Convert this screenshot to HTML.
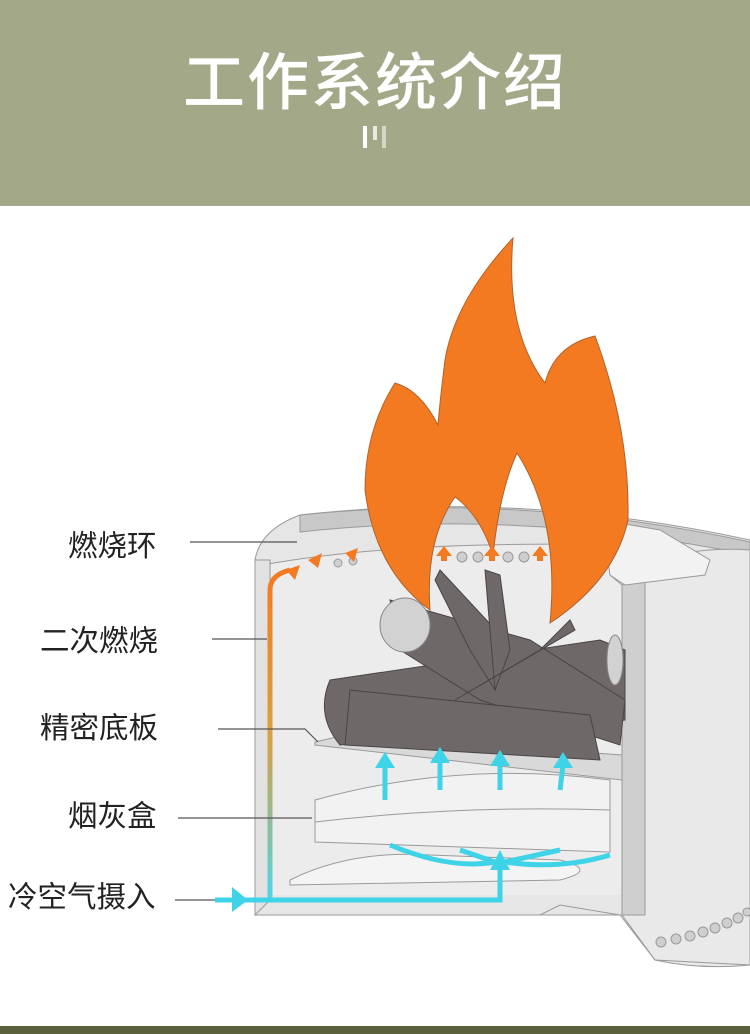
<!DOCTYPE html>
<html><head><meta charset="utf-8"><style>
body{margin:0;width:750px;height:1034px;background:#fff;overflow:hidden;position:relative;font-family:"Liberation Sans","Noto Sans CJK SC",sans-serif}
.hd{position:absolute;left:0;top:0;width:750px;height:206px;background:#a3a988}
.t{position:absolute;left:0;width:750px;top:32px;text-align:center;color:#fff;font-size:62px;letter-spacing:2px;font-weight:500}
.lb{position:absolute;font-size:29.5px;color:#222}
.ft{position:absolute;left:0;top:1026px;width:750px;height:8px;background:#5a5f3c}
</style></head><body>
<div class="hd"></div>
<div class="t">工作系统介绍</div>
<div style="position:absolute;left:363px;top:126px;width:4px;height:22px;background:#fff"></div>
<div style="position:absolute;left:373px;top:126px;width:4px;height:14px;background:#e8eadc"></div>
<div style="position:absolute;left:382px;top:126px;width:4px;height:22px;background:#d5d8c5"></div>
<div class="lb" style="left:68px;top:523px">燃烧环</div>
<div class="lb" style="left:40px;top:618px">二次燃烧</div>
<div class="lb" style="left:40px;top:705px">精密底板</div>
<div class="lb" style="left:68px;top:793px">烟灰盒</div>
<div class="lb" style="left:8px;top:874px">冷空气摄入</div>
<svg width="750" height="1034" style="position:absolute;left:0;top:0">
<g stroke="#9a9a9a" stroke-width="1">
<path d="M255,560 Q260,530 300,515 Q520,490 750,540 L750,965 L655,960 L622,915 L540,915 L530,915 L255,915 Z" fill="#e6e6e6"/>
<path d="M300,515 Q520,492 750,542 L750,555 Q520,508 300,532 Z" fill="#c8c8c8"/>
<path d="M262,565 Q400,540 620,545 L622,585 L262,585 Z" fill="#ececec"/>
<path d="M270,575 L622,575 L622,895 L270,895 Z" fill="#ececec" stroke="none"/>
<path d="M255,560 L270,560 L270,900 L255,915 Z" fill="#e2e2e2"/>
<path d="M610,575 Q680,545 750,550 L750,965 Q700,970 655,960 L622,915 L622,585 Z" fill="#e9e9e9"/>
<path d="M622,585 L645,580 L645,915 L622,915 Z" fill="#cfcfcf"/>
<path d="M602,520 L660,530 L710,560 L705,575 L625,585 L610,575 Z" fill="#f2f2f2"/>
<path d="M255,915 L540,915 L560,905 L620,915 L655,960 L750,965" fill="none"/>
<path d="M290,880 Q350,850 430,855 L560,860 Q600,870 560,880 L290,885 Z" fill="#f4f4f4"/>
<path d="M315,800 Q460,760 610,780 L610,852 L315,842 Z" fill="#f2f2f2"/>
<path d="M315,822 Q460,805 610,810" fill="none"/>
<path d="M315,742 L345,735 L622,755 L622,780 L315,745 Z" fill="#d9d9d9"/>
</g>
<g fill="#cfcfcf" stroke="#999" stroke-width="1">
<circle cx="338" cy="563" r="4"/><circle cx="353" cy="561" r="4"/><circle cx="462" cy="557" r="5"/><circle cx="478" cy="557" r="5"/><circle cx="508" cy="557" r="5"/><circle cx="524" cy="557" r="5"/><circle cx="557" cy="558" r="5"/>
<circle cx="661" cy="942" r="5"/><circle cx="676" cy="939" r="5"/><circle cx="690" cy="936" r="5"/><circle cx="703" cy="932" r="5"/><circle cx="715" cy="928" r="5"/><circle cx="727" cy="923" r="5"/><circle cx="738" cy="918" r="5"/><circle cx="747" cy="912" r="4"/>
</g>
<g fill="#6e6868" stroke="#4a4545" stroke-width="1">
<path d="M330,680 L600,640 L625,650 L625,720 L340,745 Q315,715 330,680 Z"/>
<path d="M390,600 L530,640 L625,700 L620,745 L480,700 L400,650 Z"/>
<path d="M350,690 L590,715 L600,760 L345,745 Z"/>
<path d="M440,570 L505,640 L495,690 L470,650 L435,580 Z"/>
<path d="M485,570 L500,575 L510,650 L495,690 Z"/>
<path d="M540,650 L570,620 L575,630 L455,700 Z"/>
</g>
<ellipse cx="405" cy="625" rx="25" ry="27" fill="#d2d2d2" stroke="#888"/>
<ellipse cx="615" cy="660" rx="8" ry="25" fill="#d2d2d2" stroke="#888"/>
<path d="M513,238 Q455,300 445,360 Q440,400 438,425 Q420,390 395,383 Q365,430 365,490 Q375,570 430,610 Q425,540 455,497 Q480,515 493,555 Q500,490 517,453 Q560,520 550,623 Q615,580 628,520 Q630,430 595,336 Q555,345 545,383 Q505,330 513,238 Z" fill="#f47a22" stroke="#b0632b" stroke-width="1"/>
<defs><linearGradient id="g" x1="0" y1="0" x2="0" y2="1"><stop offset="0" stop-color="#f47a22"/><stop offset="0.5" stop-color="#d9a040"/><stop offset="1" stop-color="#4fd5e6"/></linearGradient></defs>
<path d="M270,900 L270,590 Q270,575 290,570" fill="none" stroke="url(#g)" stroke-width="5"/>
<g fill="#f47a22">
<polygon points="300,565 286,570 295,580"/><polygon points="322,553 308,560 318,568"/><polygon points="358,548 345,553 354,562"/>
<polygon points="444,546 436,556 452,556"/><rect x="441" y="555" width="6" height="6"/>
<polygon points="492,546 484,556 500,556"/><rect x="489" y="555" width="6" height="6"/>
<polygon points="540,546 532,556 548,556"/><rect x="537" y="555" width="6" height="6"/>
</g>
<g fill="none" stroke="#3fd3e8" stroke-width="5">
<path d="M215,900 L500,900 L500,865"/>
<path d="M390,845 Q450,870 495,862"/><path d="M460,850 L495,862"/><path d="M505,862 L560,850"/><path d="M505,862 Q560,870 610,855"/>
<path d="M385,800 L385,765"/><path d="M440,790 L440,758"/><path d="M500,790 L500,760"/><path d="M560,790 L563,765"/>
</g>
<g fill="#3fd3e8">
<polygon points="232,887 232,912 248,900"/>
<polygon points="500,850 490,870 510,870"/>
<polygon points="385,752 375,768 395,768"/><polygon points="440,747 430,763 450,763"/><polygon points="500,750 490,766 510,766"/><polygon points="563,752 553,768 573,768"/>
</g>
<g stroke="#555" stroke-width="1.2" fill="none">
<line x1="190" y1="542" x2="297" y2="542"/>
<line x1="212" y1="639" x2="267" y2="639"/>
<path d="M218,729 L305,729 L318,742"/>
<line x1="178" y1="818" x2="312" y2="818"/>
<line x1="175" y1="900" x2="215" y2="900"/>
</g>
</svg>
<div class="ft"></div>
</body></html>
